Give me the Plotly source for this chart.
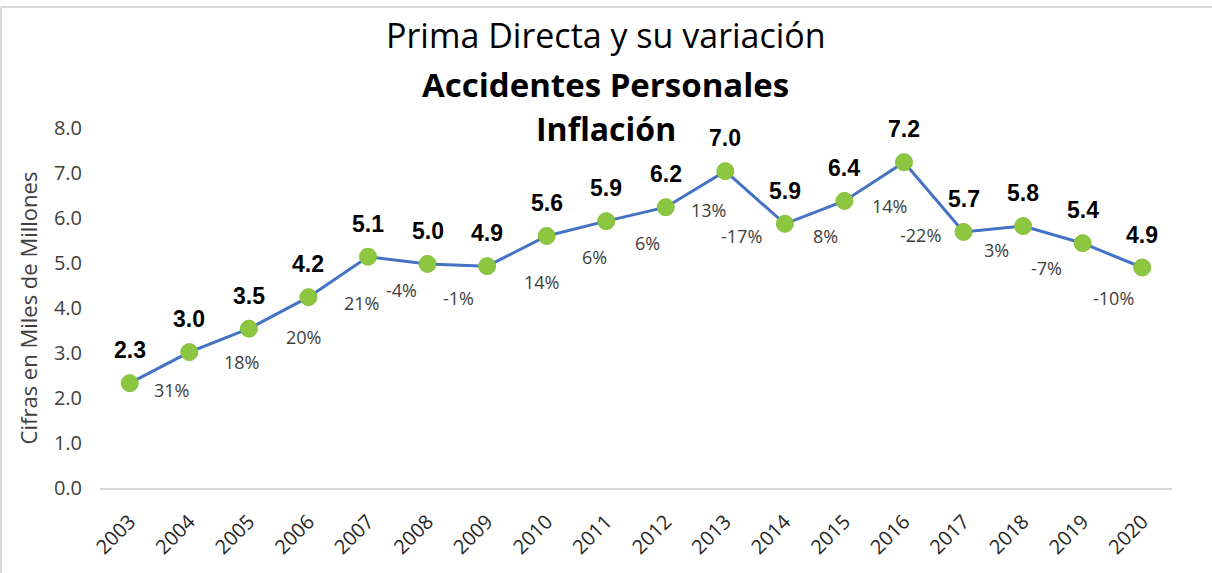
import plotly.graph_objects as go

# Prima directa, Accidentes Personales (miles de millones)
years = ["2003", "2004", "2005", "2006", "2007", "2008", "2009", "2010", "2011",
         "2012", "2013", "2014", "2015", "2016", "2017", "2018", "2019", "2020"]
prima = [2.33, 3.02, 3.54, 4.24, 5.14, 4.98, 4.93, 5.60, 5.93,
         6.24, 7.04, 5.87, 6.38, 7.24, 5.69, 5.82, 5.44, 4.90]
# variación anual (desde 2004)
variacion = ["31%", "18%", "20%", "21%", "-4%", "-1%", "14%", "6%", "6%",
             "13%", "-17%", "8%", "14%", "-22%", "3%", "-7%", "-10%"]
y_ticks = [0, 1, 2, 3, 4, 5, 6, 7, 8]

# label placement (pixels relative to each point)
var_offsets = [(-18, -38), (-7, -33), (-5, -40), (-7, -46), (-26, -26), (-29, -32),
               (-5, -46), (-12, -36), (-18, -36), (-17, -39), (-43, -12), (-19, -35),
               (-15, -44), (-43, -3), (-27, -24), (-36, -25), (-29, -30)]

FONT = "Century Gothic, Open Sans, sans-serif"
BOLD = "Liberation Sans, Arial, sans-serif"

fig = go.Figure()
fig.add_trace(go.Scatter(
    x=years, y=prima, mode="lines+markers",
    line=dict(color="#4472C4", width=3),
    marker=dict(color="#8DC641", size=17, line=dict(color="#86BF3C", width=1)),
    hoverinfo="x+y", showlegend=False,
))

annotations = []
# category axis: annotations are placed by category index
for i, v in enumerate(prima):
    annotations.append(dict(
        x=i, y=v, xref="x", yref="y", text=f"<b>{v:.1f}</b>", showarrow=False,
        xanchor="center", yanchor="middle", yshift=33,
        font=dict(family=BOLD, size=23, color="#000000"),
    ))
for i, (v, txt, (dx, dy)) in enumerate(zip(prima[1:], variacion, var_offsets), start=1):
    annotations.append(dict(
        x=i, y=v, xref="x", yref="y", text=txt, showarrow=False,
        xanchor="center", yanchor="middle", xshift=dx, yshift=dy,
        font=dict(family=FONT, size=18, color="#404040"),
    ))

# titles
for txt, ypos, size in [("Prima Directa y su variación", 1.258, 34),
                        ("<b>Accidentes Personales</b>", 1.122, 33),
                        ("<b>Inflación</b>", 1.0, 32)]:
    annotations.append(dict(
        x=0.472, y=ypos, xref="paper", yref="paper", text=txt, showarrow=False,
        xanchor="center", yanchor="middle",
        font=dict(family=FONT, size=size, color="#000000"),
    ))

border = "#D9D9D9"
shapes = [
    dict(type="line", xref="paper", yref="paper", x0=-0.0924, x1=1.04,
         y0=1.336, y1=1.336, line=dict(color=border, width=2)),
    dict(type="line", xref="paper", yref="paper", x0=-0.0924, x1=-0.0924,
         y0=1.336, y1=-0.24, line=dict(color=border, width=2)),
]

fig.update_layout(
    width=1212, height=573,
    margin=dict(l=100, r=40, t=128, b=85),
    paper_bgcolor="white", plot_bgcolor="white",
    annotations=annotations, shapes=shapes,
    xaxis=dict(
        type="category", range=[-0.5, 17.5], showgrid=False,
        showline=True, linecolor="#D9D9D9", linewidth=2,
        ticks="", tickangle=-45, ticklabelstandoff=12,
        tickfont=dict(family=FONT, size=20, color="#262626"),
    ),
    yaxis=dict(
        range=[0, 8], tickvals=y_ticks, ticktext=[f"{t:.1f}" for t in y_ticks],
        showgrid=False, zeroline=False, showline=False, ticks="",
        ticklabelstandoff=17,
        tickfont=dict(family=FONT, size=20, color="#404040"),
        title=dict(text="Cifras en Miles de Millones", standoff=10,
                   font=dict(family=FONT, size=22, color="#404040")),
    ),
)

fig.write_html("out.html")
